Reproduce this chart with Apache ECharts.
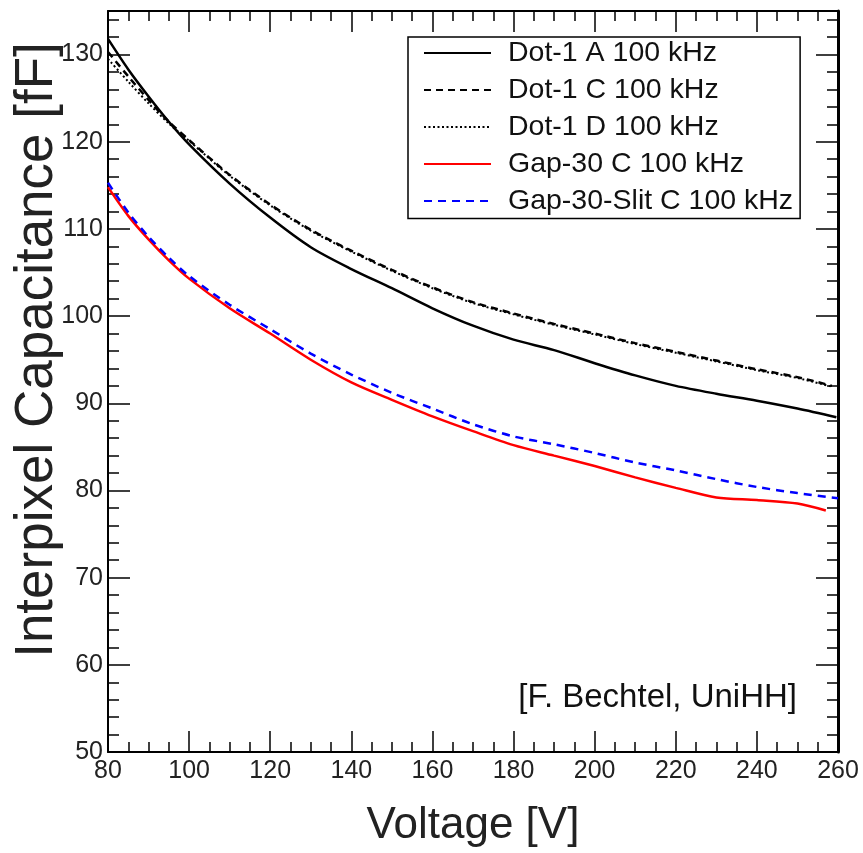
<!DOCTYPE html>
<html>
<head>
<meta charset="UTF-8">
<title>Interpixel capacitance</title>
<script src="https://cdn.jsdelivr.net/npm/echarts@6/dist/echarts.min.js"></script>
<style>
  html, body { margin: 0; padding: 0; background: #fff; }
  #chart { width: 863px; height: 853px; }
</style>
</head>
<body>
<div id="chart"></div>
<script>
// voltages shared by all curves (last point of each curve added separately)
var voltage = [80, 85, 90, 95, 100, 110, 120, 130, 140, 150, 160, 170, 180, 190, 200, 210, 220, 230, 240, 250];

var dot1A = [131.8, 128.3, 125.2, 122.3, 119.7, 115.2, 111.3, 107.9, 105.4, 103.2, 100.9, 98.9, 97.3, 96.1, 94.6, 93.2, 92.0, 91.1, 90.3, 89.4];
var dot1C = [130.3, 127.5, 124.8, 122.3, 120.2, 116.2, 112.8, 109.9, 107.5, 105.3, 103.3, 101.6, 100.3, 99.1, 98.0, 96.9, 95.9, 94.9, 93.9, 93.0];
var dot1D = [129.5, 126.9, 124.4, 122.1, 120.1, 116.1, 112.7, 109.8, 107.4, 105.2, 103.2, 101.5, 100.2, 99.0, 97.9, 96.8, 95.8, 94.8, 93.8, 92.9];
var gap30C = [114.8, 111.5, 108.8, 106.4, 104.3, 100.9, 98.0, 95.0, 92.4, 90.4, 88.5, 86.8, 85.2, 84.0, 82.8, 81.5, 80.3, 79.2, 78.9, 78.5];
var gap30Slit = [115.3, 111.9, 109.1, 106.7, 104.6, 101.3, 98.5, 95.7, 93.3, 91.2, 89.4, 87.6, 86.2, 85.3, 84.3, 83.2, 82.3, 81.3, 80.4, 79.7];

// end points [V, fF]
var dot1AEnd = [259.6, 88.4];
var dot1CEnd = [258.5, 92.0];
var dot1DEnd = [258.5, 91.9];
var gap30CEnd = [257, 77.7];
var gap30SlitEnd = [260, 79.1];

var names = ['Dot-1 A 100 kHz', 'Dot-1 C 100 kHz', 'Dot-1 D 100 kHz', 'Gap-30 C 100 kHz', 'Gap-30-Slit C 100 kHz'];

var xTicks = [80, 100, 120, 140, 160, 180, 200, 220, 240, 260];
var yTicks = [50, 60, 70, 80, 90, 100, 110, 120, 130];

function pts(vals, end) {
    var out = voltage.map(function (v, i) { return [v, vals[i]]; });
    out.push(end);
    return out;
}

var chart = echarts.init(document.getElementById('chart'));
var font = 'Liberation Sans, Arial, sans-serif';

function xAx(bottom) {
    return {
        type: 'value', position: bottom ? 'bottom' : 'top',
        min: 80, max: 260, interval: 20,
        axisLine: { show: true, onZero: false, lineStyle: { color: '#000', width: 2 } },
        axisTick: { show: true, inside: true, length: 21, lineStyle: { color: '#000', width: 1.5 } },
        minorTick: { show: true, splitNumber: 4, length: 10, lineStyle: { color: '#000', width: 1.5 } },
        axisLabel: { show: bottom, margin: 7, fontSize: 25, fontFamily: font, color: '#222',
            formatter: function (v) { return xTicks.indexOf(v) >= 0 ? String(v) : ''; } },
        splitLine: { show: false },
        name: bottom ? 'Voltage [V]' : '',
        nameLocation: 'middle', nameGap: 52,
        nameTextStyle: { fontSize: 44, fontFamily: font, color: '#222' }
    };
}
function yAx(left) {
    return {
        type: 'value', position: left ? 'left' : 'right',
        min: 50, max: 135, interval: 10,
        axisLine: { show: true, onZero: false, lineStyle: { color: '#000', width: left ? 2 : 3 } },
        axisTick: { show: true, inside: true, length: 22, lineStyle: { color: '#000', width: 1.5 } },
        minorTick: { show: true, splitNumber: 5, length: 11, lineStyle: { color: '#000', width: 1.5 } },
        axisLabel: { show: left, margin: 5, fontSize: 25, fontFamily: font, color: '#222', showMaxLabel: false,
            formatter: function (v) { return yTicks.indexOf(v) >= 0 ? String(v) : ''; } },
        splitLine: { show: false }
    };
}

function line(name, data, color, type, width) {
    return {
        name: name, type: 'line', data: data, xAxisIndex: 0, yAxisIndex: 0,
        symbol: 'none', smooth: 0.3, clip: true,
        lineStyle: { color: color, width: width, type: type },
        itemStyle: { color: color }
    };
}

var option = {
    animation: false,
    backgroundColor: '#fff',
    grid: { left: 108, right: 25, top: 11, bottom: 100, containLabel: false },
    xAxis: [xAx(true), xAx(false)],
    yAxis: [yAx(true), yAx(false)],
    legend: {
        orient: 'vertical', left: 408, top: 37,
        itemWidth: 67, itemHeight: 25, itemGap: 8,
        padding: [1.5, 7, 3, 15],
        borderColor: '#000', borderWidth: 1.5, backgroundColor: '#fff',
        selectedMode: false,
        itemStyle: { opacity: 0 },
        textStyle: { fontSize: 28.5, lineHeight: 25, fontFamily: font, color: '#111', padding: [0, 0, 0, 12] },
        data: names
    },
    graphic: [
        {
            type: 'text', x: 37, y: 350, rotation: Math.PI / 2,
            style: { text: 'Interpixel Capacitance [fF]', font: '53px ' + font, fill: '#222',
                textAlign: 'center', textVerticalAlign: 'middle' }
        },
        {
            type: 'text', x: 797, y: 698,
            style: { text: '[F. Bechtel, UniHH]', font: '33px ' + font, fill: '#111',
                textAlign: 'right', textVerticalAlign: 'middle' }
        }
    ],
    series: [
        line(names[0], pts(dot1A, dot1AEnd), '#000', 'solid', 2.5),
        line(names[1], pts(dot1C, dot1CEnd), '#000', [7, 5], 2.5),
        line(names[2], pts(dot1D, dot1DEnd), '#000', [2, 2.5], 2),
        line(names[3], pts(gap30C, gap30CEnd), '#ff0000', 'solid', 2.5),
        line(names[4], pts(gap30Slit, gap30SlitEnd), '#0000ff', [8, 6], 2.5)
    ]
};

chart.setOption(option);
</script>
</body>
</html>
